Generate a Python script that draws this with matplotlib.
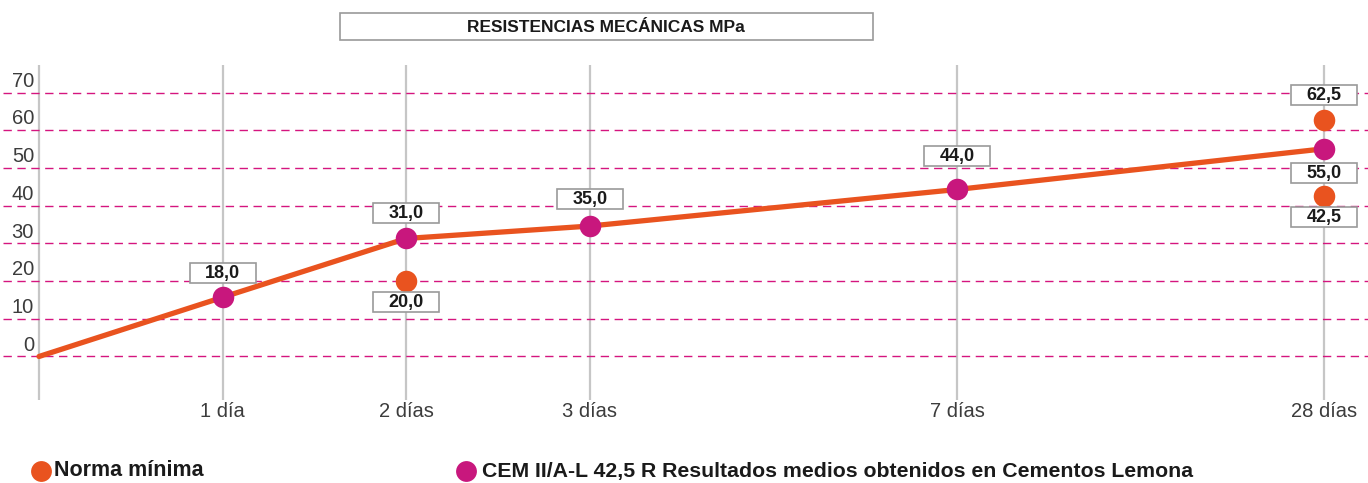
import matplotlib
matplotlib.use("Agg")
import matplotlib.pyplot as plt
import matplotlib.transforms as mtransforms
from matplotlib.patches import Rectangle
from matplotlib.lines import Line2D

# datos
dias = ['1 día', '2 días', '3 días', '7 días', '28 días']
x_dias = [1, 2, 3, 5, 7]
y_ticks = [0, 10, 20, 30, 40, 50, 60, 70]

# CEM II/A-L 42,5 R (linea + puntos magenta)
x_cem = [0, 1, 2, 3, 5, 7]
y_cem = [0, 15.7, 31.3, 34.6, 44.3, 55.1]
txt_cem = ['', '18,0', '31,0', '35,0', '44,0', '55,0']

# Norma minima (puntos naranjas)
x_norma = [2, 7, 7]
y_norma = [20.0, 62.8, 42.6]
txt_norma = ['20,0', '62,5', '42,5']

# desplazamiento de las etiquetas en pixeles (positivo = abajo)
off_cem = [0, -24, -25, -27, -33, 24]
off_norma = [21, -25, 21]

NARANJA = '#e9531f'
MAGENTA = '#c8177d'
GRID = '#d5157f'
GRIS = '#c6c6c6'
TXT = '#3c3c3c'
FONT = ['Liberation Sans', 'DejaVu Sans']

plt.rcParams['font.family'] = FONT

fig = plt.figure(figsize=(13.68, 4.83), dpi=100)
ax = fig.add_axes([0, 83 / 483, 1, 335 / 483])
ax.set_xlim(-0.2124, 7.2386)
ax.set_ylim(-11.54, 77.32)
ax.axis('off')

# lineas horizontales discontinuas
for v in y_ticks:
    ax.axhline(v, xmin=0.002, xmax=1, color=GRID, lw=1.0, dashes=(6, 4), zorder=1)
    ax.text(-0.027, v + 3.0, str(v), ha='right', va='center', fontsize=14.5,
            color=TXT)

# lineas verticales
for xv in [0] + x_dias:
    ax.axvline(xv, color=GRIS, lw=1.6, zorder=0)
for xv, lab in zip(x_dias, dias):
    ax.text(xv, -14.5, lab, ha='center', va='center', fontsize=14.5, color=TXT,
            clip_on=False)

ax.plot(x_cem, y_cem, color=NARANJA, lw=3.8, solid_capstyle='round', zorder=3)
ax.plot(x_cem[1:], y_cem[1:], 'o', color=MAGENTA, ms=15.5, mec='none', zorder=4)
ax.plot(x_norma, y_norma, 'o', color=NARANJA, ms=15.5, mec='none', zorder=4)


def etiqueta(x, y, txt, dy):
    tr = mtransforms.ScaledTranslation(x, y, ax.transData)
    rect = Rectangle((-33, -dy - 10), 66, 20, transform=tr, facecolor='white',
                     edgecolor='#9a9a9a', lw=1.2, zorder=5, clip_on=False)
    ax.add_artist(rect)
    ax.annotate(txt, (x, y), xytext=(0, -dy - 0.5), textcoords='offset pixels',
                ha='center', va='center', fontsize=13, fontweight='bold',
                color='#1a1a1a', zorder=6)


for x, y, t, d in zip(x_cem, y_cem, txt_cem, off_cem):
    if t:
        etiqueta(x, y, t, d)
for x, y, t, d in zip(x_norma, y_norma, txt_norma, off_norma):
    etiqueta(x, y, t, d)

# titulo en caja
W, H = 1368, 483
fig.add_artist(Rectangle((340 / W, 1 - 40 / H), 533 / W, 27 / H, transform=fig.transFigure,
                         fill=False, edgecolor='#9a9a9a', lw=1.2))
fig.text(606 / W, 1 - 27 / H, 'RESISTENCIAS MECÁNICAS MPa', ha='center', va='center',
         fontsize=12.5, fontweight='bold', color='#1a1a1a')

# leyenda
fig.add_artist(Line2D([41 / W], [1 - 471 / H], marker='o', ms=15, color=NARANJA,
                      mec='none', transform=fig.transFigure))
fig.text(54 / W, 1 - 471 / H, 'Norma mínima', ha='left', va='center', fontsize=15.5,
         fontweight='bold', color='#1a1a1a')
fig.add_artist(Line2D([466 / W], [1 - 471 / H], marker='o', ms=15, color=MAGENTA,
                      mec='none', transform=fig.transFigure))
fig.text(482 / W, 1 - 471 / H, 'CEM II/A-L 42,5 R Resultados medios obtenidos en Cementos Lemona',
         ha='left', va='center', fontsize=15.3, fontweight='bold', color='#1a1a1a')

fig.savefig('out.png', dpi=100)
